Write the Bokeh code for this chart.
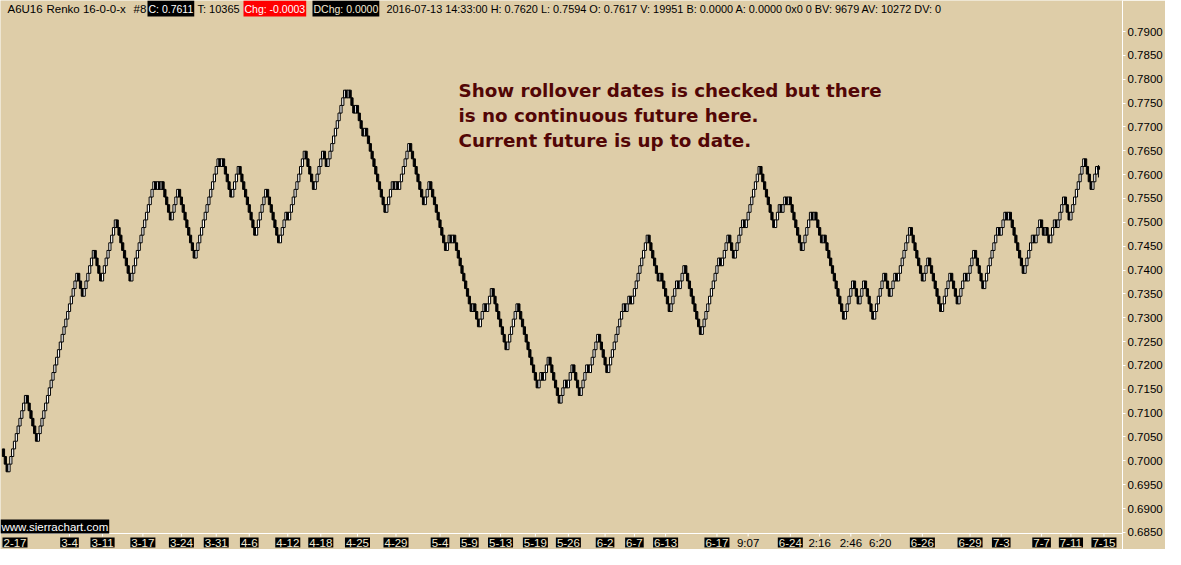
from bokeh.plotting import figure
from bokeh.models import Range1d, LinearAxis, FixedTicker, PrintfTickFormatter, Label, ColumnDataSource
from bokeh.embed import file_html
from bokeh.resources import INLINE

# ---------------- data ----------------
symbol = "A6U16"
brick_size = 0.0016
first_open = 0.7025
# signed run lengths of consecutive Renko bricks (+ up, - down)
renko_runs = [-3, 10, -6, 22, -3, 6, -4, 8, -8, 13, -1, 1, -1, 1, -5, 4, -9, 13, -1, 1,
              -5, 4, -9, 6, -7, 4, -1, 9, -5, 5, -2, 10, -1, 1, -3, 1, -4, 1, -11, 4,
              -1, 1, -1, 6, -8, 3, -9, 2, -1, 1, -10, 1, -3, 3, -1, 3, -8, 6, -11, 2,
              -1, 3, -6, 3, -1, 3, -4, 4, -1, 5, -5, 9, -1, 2, -1, 9, -6, 1, -5, 4,
              -1, 3, -9, 10, -1, 4, -3, 5, -1, 8, -8, 3, -1, 2, -1, 1, -7, 5, -1, 1,
              -4, 1, -11, 5, -3, 3, -5, 6, -3, 3, -1, 7, -7, 3, -7, 5, -4, 4, -1, 4,
              -5, 8, -1, 3, -1, 1, -8, 5, -1, 3, -2, 1, -2, 3, -1, 4, -3, 8, -4, 3]
last_open, last_close, last_high, last_low = 0.7617, 0.7611, 0.7620, 0.7594

price_ticks = [0.6850, 0.6900, 0.6950, 0.7000, 0.7050, 0.7100, 0.7150, 0.7200, 0.7250,
               0.7300, 0.7350, 0.7400, 0.7450, 0.7500, 0.7550, 0.7600, 0.7650, 0.7700,
               0.7750, 0.7800, 0.7850, 0.7900]

date_labels = ["3-4", "3-11", "3-17", "3-24", "3-31", "4-6", "4-12", "4-18", "4-25",
               "4-29", "5-4", "5-9", "5-13", "5-19", "5-26", "6-2", "6-7", "6-13", "6-17",
               "9:07", "6-24", "2:16", "2:46", "6:20", "6-26", "6-29", "7-3", "7-7", "7-11", "7-15"]
date_label_bar = [36, 54, 76, 97, 116, 134, 155, 173, 193, 214, 238, 254, 271, 290, 308,
                  328, 344, 361, 389, 406, 429, 445, 462, 478, 501, 527, 544, 566, 582, 600]
first_date_label = "2-17"

note_lines = ["Show rollover dates is checked but there",
              "is no continuous future here.",
              "Current future is up to date."]

header_plain = [("A6U16", 7, "11.5px"), ("Renko 16-0-0-x", 46, "11.5px"), ("#8", 133, "11.5px"),
                ("T: 10365", 197, "11px"),
                ("2016-07-13 14:33:00 H: 0.7620 L: 0.7594 O: 0.7617 V: 19951 B: 0.0000 A: 0.0000 0x0 0 BV: 9679 AV: 10272 DV: 0", 386, "10.9px")]
header_boxed = [("C: 0.7611", 147, "black", "white"),
                ("Chg: -0.0003", 243, "#FF0000", "white"),
                ("DChg: 0.0000", 312, "black", "#F4ECD4")]

# ---------------- build bricks ----------------
opens, closes = [], []
price = first_open
for r in renko_runs:
    step = brick_size if r > 0 else -brick_size
    for _ in range(abs(r)):
        opens.append(round(price, 5))
        price += step
        closes.append(round(price, 5))
opens.append(last_open)
closes.append(last_close)

idx = list(range(len(opens)))
hw = 0.6
src = ColumnDataSource(dict(
    left=[i - hw for i in idx], right=[i + hw for i in idx],
    bottom=[min(o, c) for o, c in zip(opens, closes)],
    top=[max(o, c) for o, c in zip(opens, closes)],
    fill=["white" if c > o else "black" for o, c in zip(opens, closes)],
))

# ---------------- layout constants ----------------
BG = "#DECDA8"
FONT = "Liberation Sans"
W, H = 1165, 549
RB = 40                      # right border for the price axis
PX_PER_BAR = 1.839
X0 = 3                        # pixel of first bar
PX_PER_PRICE = 4770.0
Y_REF_PRICE, Y_REF_PIX = 0.79, 31


def price_at(ypix):
    return Y_REF_PRICE - (ypix - Y_REF_PIX) / PX_PER_PRICE


x_start = -X0 / PX_PER_BAR
x_end = x_start + (W - RB) / PX_PER_BAR

p = figure(width=W, height=H, output_backend="svg", toolbar_location=None,
           x_range=Range1d(x_start, x_end), y_range=Range1d(price_at(H), price_at(0)),
           x_axis_location=None, y_axis_location=None,
           min_border_left=0, min_border_right=RB, min_border_top=0, min_border_bottom=0,
           background_fill_color=BG, border_fill_color=BG, outline_line_color=None)
p.grid.visible = False

# bottom axis line and ticks
base_y = price_at(533)
p.segment(x0=[x_start - 5], y0=[base_y], x1=[x_end + 5], y1=[base_y], line_color="white", line_width=1)
p.segment(x0=date_label_bar, y0=[base_y] * len(date_label_bar), x1=date_label_bar,
          y1=[price_at(536)] * len(date_label_bar), line_color="white", line_width=1)

# bricks
p.segment(x0=[idx[-1]], y0=[last_low], x1=[idx[-1]], y1=[last_high], line_color="black", line_width=1)
p.quad(left="left", right="right", bottom="bottom", top="top", source=src,
       fill_color="fill", line_color="black", line_width=1)

yax = LinearAxis(ticker=FixedTicker(ticks=price_ticks), formatter=PrintfTickFormatter(format="%.4f"),
                 axis_line_color="white", axis_line_width=1,
                 major_tick_line_color="white", major_tick_out=3, major_tick_in=0,
                 minor_tick_line_color=None,
                 major_label_text_font=FONT, major_label_text_font_size="11.5px",
                 major_label_text_color="black", major_label_standoff=2)
p.add_layout(yax, "right")

LAB_Y = 7   # screen units above the bottom edge
# date labels
for t, b in zip(date_labels, date_label_bar):
    boxed = "-" in t
    p.add_layout(Label(x=b, y=LAB_Y, x_units="data", y_units="screen", text=t,
                       text_align="center", text_baseline="middle",
                       text_font=FONT, text_font_size="11.5px",
                       text_color="#F4ECD4" if boxed else "black",
                       background_fill_color="black" if boxed else None,
                       padding=1))
p.add_layout(Label(x=2, y=LAB_Y, x_units="screen", y_units="screen", text=first_date_label,
                   text_align="left", text_baseline="middle", text_font=FONT,
                   text_font_size="11.5px", text_color="#F4ECD4", background_fill_color="black",
                   padding=1))

# watermark
p.add_layout(Label(x=0, y=H - 526, x_units="screen", y_units="screen", text="www.sierrachart.com",
                   text_align="left", text_baseline="middle", text_font=FONT,
                   text_font_size="11.5px", text_color="white", background_fill_color="black",
                   padding=1))

# green box at bottom right
p.add_layout(Label(x=W - 12, y=LAB_Y, x_units="screen", y_units="screen", text="1",
                   text_align="left", text_baseline="middle", text_font=FONT,
                   text_font_size="11.5px", text_color="black", background_fill_color="#00C000",
                   padding=(3, 1)))

# current price marker
p.add_layout(Label(x=W - RB + 2, y=last_close, x_units="screen", y_units="data", text="0.7611",
                   text_align="left", text_baseline="middle", text_font=FONT,
                   text_font_size="11.5px", text_color="#DCC9A2", background_fill_color="white",
                   padding=1))

# header
for t, x, fs in header_plain:
    p.add_layout(Label(x=x, y=H - 8, x_units="screen", y_units="screen", text=t,
                       text_align="left", text_baseline="middle", text_font=FONT,
                       text_font_size=fs, text_color="black"))
for t, x, bg, fg in header_boxed:
    p.add_layout(Label(x=x, y=H - 8, x_units="screen", y_units="screen", text=t,
                       text_align="left", text_baseline="middle", text_font=FONT,
                       text_font_size="10.5px", text_color=fg, background_fill_color=bg,
                       padding=(1, 2)))

# note text
for k, t in enumerate(note_lines):
    p.add_layout(Label(x=458, y=H - 90 - 25 * k, x_units="screen", y_units="screen", text=t,
                       text_align="left", text_baseline="middle", text_font="DejaVu Sans",
                       text_font_style="bold", text_font_size="18.3px", text_color="#520606"))

open("out.html", "w").write(file_html(p, INLINE))
